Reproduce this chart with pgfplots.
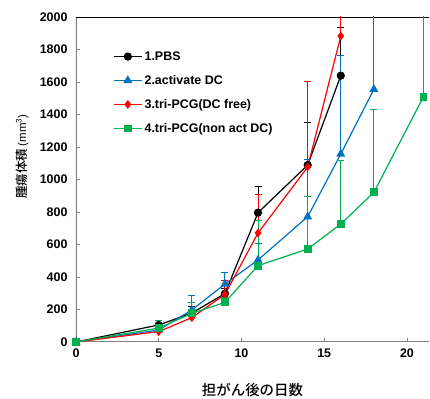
\documentclass[border=0pt]{standalone}
\usepackage{pgfplots}
\pgfplotsset{compat=1.18}
\usepackage{fontspec}
\setmainfont{Liberation Sans}
\newfontfamily\cjk{Noto Sans CJK JP Medium}
\definecolor{cblue}{HTML}{0070C0}
\definecolor{cred}{HTML}{FF0000}
\definecolor{cgreen}{HTML}{00B050}
\definecolor{axgray}{HTML}{808080}
\begin{document}
\begin{tikzpicture}
\begin{axis}[
  name=ax,
  scale only axis,
  width=353bp, height=325bp,
  xmin=0, xmax=21.33, ymin=0, ymax=2000,
  xtick={0,5,10,15,20},
  ytick={0,200,400,600,800,1000,1200,1400,1600,1800,2000},
  tick pos=left,
  tick align=inside,
  major tick length=4bp,
  tick style={axgray, line width=0.8bp},
  axis line style={draw=none},
  /pgf/number format/assume math mode=true,
  /pgf/number format/1000 sep={},
  xticklabel={\bfseries\pgfmathprintnumber{\tick}},
  yticklabel={\bfseries\pgfmathprintnumber{\tick}},
  tick label style={font=\fontsize{12.5}{14}\selectfont\bfseries},
  xticklabel style={yshift=-3bp},
  yticklabel style={xshift=-5bp},
  xlabel={\cjk\fontsize{14.5}{16}\selectfont 担がん後の日数},
  ylabel={{\cjk\fontsize{12.5}{14}\selectfont 腫瘍体積} {\fontsize{11.5}{13}\selectfont (mm\textsuperscript{3})}},
  xlabel style={at={(rel axis cs:0.5,0)}, anchor=center, yshift=-48bp},
  ylabel style={at={(rel axis cs:0,0.57)}, anchor=center, rotate=0, yshift=54bp},
  legend style={at={(0.105,0.90)}, anchor=north west, draw=none, fill=none,
    font=\fontsize{12.5}{13}\selectfont\bfseries, row sep=9.5bp,
    inner sep=0pt, outer sep=0pt},
  legend cell align=left,
  legend image code/.code={
    \draw[mark repeat=2,mark phase=2] plot coordinates {(0cm,0cm) (0.5cm,0cm) (1.0cm,0cm)};
  },
  every axis plot/.append style={line width=1.2bp},
  error bars/y dir=plus,
  error bars/y explicit,
  error bars/error mark options={rotate=90, mark size=3.5bp, line width=1bp},
]
\draw[axgray, line width=1.5bp] (rel axis cs:0,0) -- (rel axis cs:0,1);
\draw[axgray, line width=1.5bp] (rel axis cs:0,0) -- (rel axis cs:1,0);
\draw[black, line width=0.9bp] (rel axis cs:0,1) -- (rel axis cs:1,1);

\addplot[black, mark=*, mark size=3.5bp, error bars/error bar style={black, line width=1bp}]
  table[x=x, y=y, y error=e] {
x y e
0 0 0
5 105 30
7 178 39
9 298 30
11 796 158
14 1089 261
16 1639 299
};
\addlegendentry{1.PBS}

\addplot[cblue, mark=triangle*, mark size=4bp, error bars/error bar style={cblue, line width=1bp}]
  table[x=x, y=y, y error=e] {
x y e
0 0 0
5 74 25
7 197 92
9 357 72
11 505 100
14 771 355
16 1157 603
18 1555 800
};
\addlegendentry{2.activate DC}

\addplot[cred, mark=diamond*, mark size=3.5bp, error bars/error bar style={cred, line width=1bp}]
  table[x=x, y=y, y error=e] {
x y e
0 0 0
5 64 20
7 150 35
9 293 88
11 671 234
14 1077 527
16 1883 400
};
\addlegendentry{3.tri-PCG(DC free)}

\addplot[cgreen, mark=square*, mark size=3.3bp, error bars/error bar style={cgreen, line width=1bp}]
  table[x=x, y=y, y error=e] {
x y e
0 0 0
5 86 45
7 176 70
9 244 30
11 470 280
14 572 326
16 726 388
18 921 511
21 1510 700
};
\addlegendentry{4.tri-PCG(non act DC)}
\end{axis}
\pgfresetboundingbox
\path (ax.south west) ++(-76bp,-57bp) rectangle ++(430bp,399bp);
\end{tikzpicture}
\end{document}
